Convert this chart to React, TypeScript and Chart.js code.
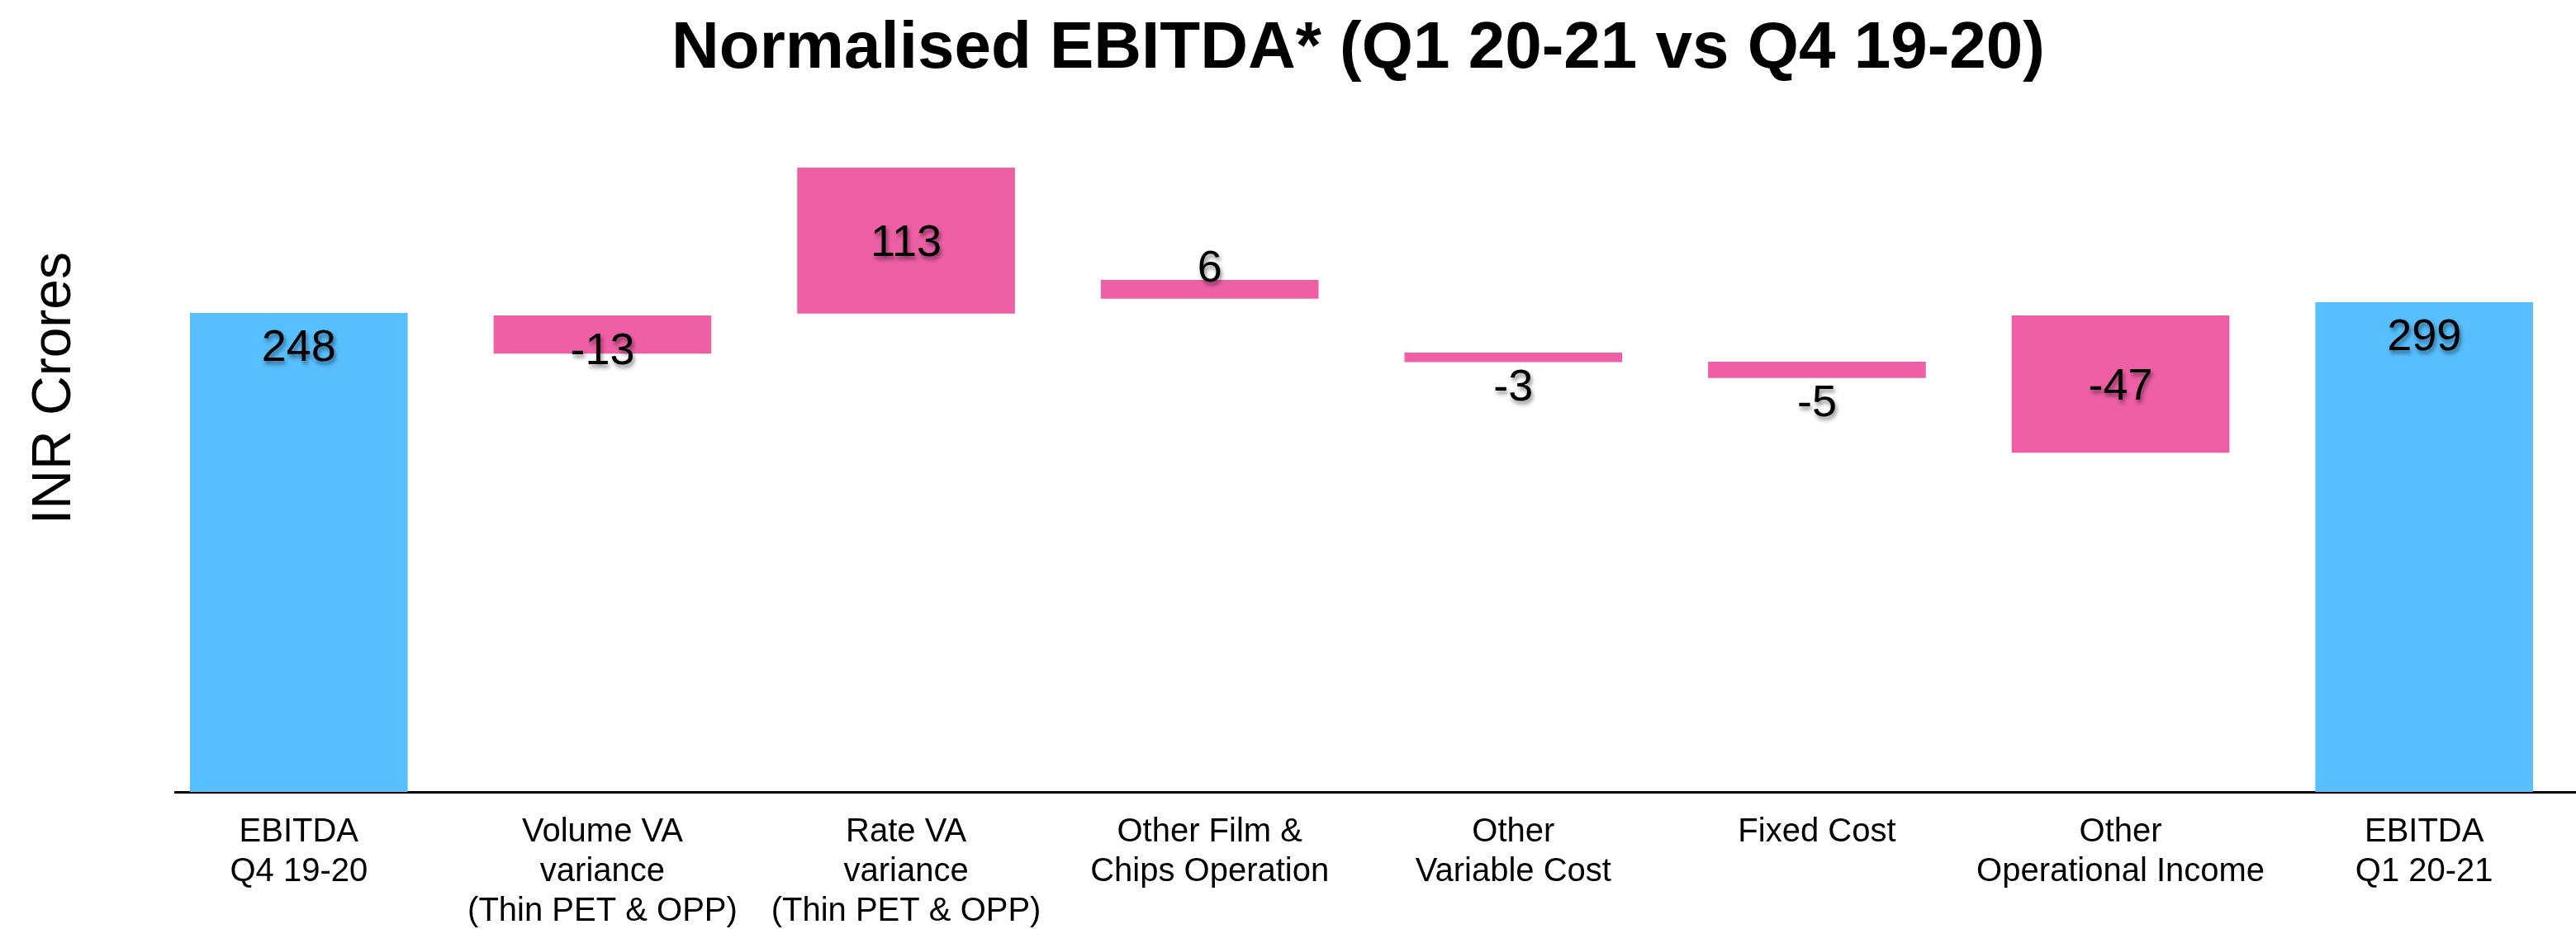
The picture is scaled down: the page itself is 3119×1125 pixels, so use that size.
import React, { useEffect, useRef } from 'react';
import { Chart, registerables } from 'chart.js';

Chart.register(...registerables);

// ---- data ----
const categories: string[][] = [
  ['EBITDA', 'Q4 19-20'],
  ['Volume VA', 'variance', '(Thin PET & OPP)'],
  ['Rate VA', 'variance', '(Thin PET & OPP)'],
  ['Other Film &', 'Chips Operation'],
  ['Other', 'Variable Cost'],
  ['Fixed Cost'],
  ['Other', 'Operational Income'],
  ['EBITDA', 'Q1 20-21'],
];
const valueLabels = ['248', '-13', '113', '6', '-3', '-5', '-47', '299'];
// bar extents as drawn in the picture (chart units)
const barLow = [0, 227.2, 248, 255.7, 222.8, 214.6, 175.9, 0];
const barHigh = [248, 246.7, 323.3, 265.1, 227.5, 222.8, 246.7, 253.6];
const barKind = ['total', 'delta', 'delta', 'delta', 'delta', 'delta', 'delta', 'total'];
const labelPlacement = ['insideTop', 'bottomEdge', 'center', 'above', 'below', 'below', 'center', 'insideTop'];
const titleText = 'Normalised EBITDA* (Q1 20-21 vs Q4 19-20)';
const yAxisTitle = 'INR Crores';

const FONT = '"Liberation Sans", Arial, Helvetica, sans-serif';
const BLUE = '#57BFFE';
const PINK = '#EE5FA6';

const overlayPlugin = {
  id: 'overlay',
  beforeDatasetsDraw(chart: any) {
    const { ctx, chartArea } = chart;
    ctx.save();
    ctx.strokeStyle = '#000';
    ctx.lineWidth = 3;
    ctx.beginPath();
    ctx.moveTo(chartArea.left + 33, chartArea.bottom + 0.5);
    ctx.lineTo(chartArea.right, chartArea.bottom + 0.5);
    ctx.stroke();
    ctx.restore();
  },
  afterDraw(chart: any) {
    const { ctx, chartArea } = chart;
    ctx.save();
    // title
    ctx.fillStyle = '#000';
    ctx.font = `bold 80px ${FONT}`;
    ctx.textAlign = 'center';
    ctx.textBaseline = 'alphabetic';
    ctx.fillText(titleText, (chartArea.left + chartArea.right) / 2 - 4, 82);
    // y axis title
    ctx.save();
    ctx.translate(85, 470);
    ctx.rotate(-Math.PI / 2);
    ctx.font = `66px ${FONT}`;
    ctx.textAlign = 'center';
    ctx.fillText(yAxisTitle, 0, 0);
    ctx.restore();
    // value labels
    const meta = chart.getDatasetMeta(0);
    ctx.font = `54px ${FONT}`;
    ctx.textAlign = 'center';
    ctx.textBaseline = 'middle';
    ctx.shadowColor = 'rgba(0,0,0,0.45)';
    ctx.shadowBlur = 5;
    ctx.shadowOffsetX = 2;
    ctx.shadowOffsetY = 4;
    meta.data.forEach((el: any, i: number) => {
      const top = Math.min(el.y, el.base);
      const bottom = Math.max(el.y, el.base);
      let y = (top + bottom) / 2;
      switch (labelPlacement[i]) {
        case 'insideTop': y = top + 39; break;
        case 'bottomEdge': y = bottom - 6; break;
        case 'above': y = top - 17; break;
        case 'below': y = bottom + 28; break;
      }
      ctx.fillText(valueLabels[i], el.x, y + 4);
    });
    ctx.restore();
  },
};

export default function App() {
  const ref = useRef<HTMLCanvasElement>(null);
  useEffect(() => {
    document.body.style.margin = '0';
    const chart = new Chart(ref.current!, {
      type: 'bar',
      data: {
        labels: categories,
        datasets: [
          {
            data: barLow.map((lo, i) => [lo, barHigh[i]]),
            backgroundColor: barKind.map((k) => (k === 'total' ? BLUE : PINK)),
            borderWidth: 0,
            barThickness: 263,
          },
        ],
      },
      options: {
        responsive: false,
        animation: false,
        layout: { padding: { left: 178, top: 24, right: 0, bottom: -28 } },
        plugins: {
          legend: { display: false },
          tooltip: { enabled: false },
          title: { display: false },
        },
        scales: {
          x: {
            grid: { display: false, drawTicks: false },
            border: { display: false },
            ticks: {
              color: '#000',
              font: { family: FONT, size: 40, lineHeight: 1.2 },
              padding: 25,
              maxRotation: 0,
              autoSkip: false,
            },
          },
          y: { display: false, min: 0, max: 400 },
        },
      },
      plugins: [overlayPlugin],
    });
    return () => chart.destroy();
  }, []);
  return <canvas ref={ref} width={3119} height={1125} style={{ display: 'block' }} />;
}
